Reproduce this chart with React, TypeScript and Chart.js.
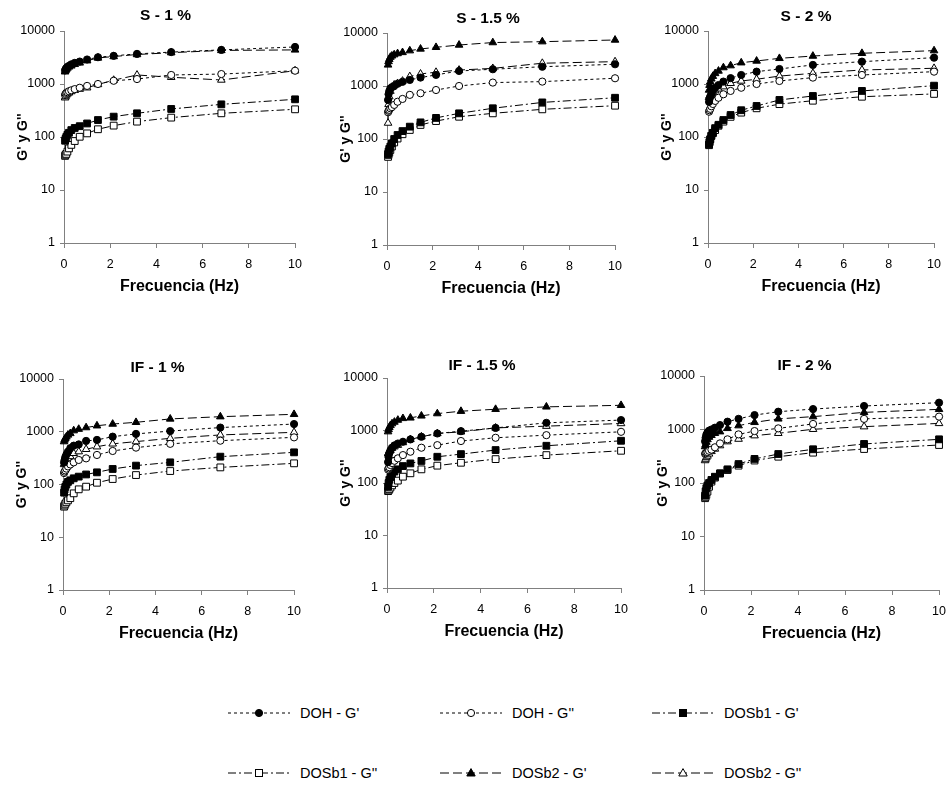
import React, { useEffect, useRef } from "react";
import { Chart, registerables } from "chart.js";

Chart.register(...registerables);

// ---------- DATA ----------
const frequencies = [0.0464, 0.0681, 0.1, 0.147, 0.215, 0.316, 0.464, 0.681, 1, 1.47, 2.15, 3.16, 4.64, 6.81, 10];

const seriesNames = ["DOH - G'", "DOH - G''", "DOSb1 - G'", "DOSb1 - G''", "DOSb2 - G'", "DOSb2 - G''"];

const panelTitles = ["S - 1 %", "S - 1.5 %", "S - 2 %", "IF - 1 %", "IF - 1.5 %", "IF - 2 %"];

const yTickValues = [1, 10, 100, 1000, 10000];
const xTickValues = [0, 2, 4, 6, 8, 10];

// S - 1 %
const s1_DOH_G1 = [1800, 1900, 2000, 2100, 2200, 2350, 2500, 2650, 2900, 3200, 3400, 3700, 4000, 4400, 5000];
const s1_DOH_G2 = [620, 650, 680, 700, 730, 760, 800, 850, 920, 1000, 1150, 1240, 1480, 1540, 1780];
const s1_DOSb1_G1 = [85, 92, 100, 110, 120, 135, 148, 160, 180, 209, 242, 280, 338, 413, 514];
const s1_DOSb1_G2 = [44, 46, 48, 53, 61, 71, 84, 101, 117, 140, 164, 195, 232, 280, 333];
const s1_DOSb2_G1 = [1700, 1800, 1900, 2000, 2100, 2200, 2350, 2500, 2750, 3100, 3300, 3600, 3900, 4300, 4400];
const s1_DOSb2_G2 = [550, 580, 620, 650, 680, 720, 760, 800, 850, 980, 1180, 1480, 1340, 1190, 1780];

// S - 1.5 %
const s15_DOH_G1 = [545, 700, 800, 900, 950, 1000, 1100, 1200, 1300, 1440, 1620, 1920, 2070, 2310, 2570];
const s15_DOH_G2 = [320, 340, 355, 380, 400, 440, 505, 570, 680, 730, 840, 1000, 1160, 1210, 1400];
const s15_DOSb1_G1 = [52, 58, 65, 72, 83, 100, 119, 141, 171, 206, 250, 305, 380, 490, 600];
const s15_DOSb1_G2 = [46, 50, 55, 62, 72, 86, 102, 123, 148, 184, 218, 263, 305, 363, 425];
const s15_DOSb2_G1 = [2500, 2900, 3200, 3500, 3700, 3900, 4100, 4300, 4640, 5000, 5370, 5940, 6600, 6860, 7380];
const s15_DOSb2_G2 = [200, 450, 630, 800, 950, 1050, 1120, 1240, 1510, 1690, 1820, 2000, 2150, 2690, 2880];

// S - 2 %
const s2_DOH_G1 = [460, 520, 580, 650, 750, 850, 955, 1110, 1290, 1480, 1710, 1920, 2290, 2640, 3140];
const s2_DOH_G2 = [300, 320, 340, 380, 420, 480, 550, 640, 740, 850, 1000, 1140, 1320, 1480, 1710];
const s2_DOSb1_G1 = [72, 80, 90, 105, 120, 147, 170, 209, 260, 320, 385, 500, 594, 740, 930];
const s2_DOSb1_G2 = [70, 80, 91, 105, 118, 135, 163, 195, 240, 288, 348, 417, 484, 575, 650];
const s2_DOSb2_G1 = [770, 950, 1100, 1250, 1400, 1580, 1760, 2040, 2220, 2520, 2720, 3050, 3370, 3800, 4260];
const s2_DOSb2_G2 = [560, 600, 620, 650, 700, 750, 810, 890, 1030, 1140, 1230, 1410, 1590, 1840, 1980];

// IF - 1 %
const if1_DOH_G1 = [260, 290, 330, 370, 420, 490, 545, 575, 670, 700, 807, 910, 1030, 1200, 1400];
const if1_DOH_G2 = [165, 175, 185, 200, 220, 240, 263, 292, 313, 363, 432, 500, 590, 677, 783];
const if1_DOSb1_G1 = [70, 80, 90, 100, 112, 120, 131, 141, 155, 170, 197, 228, 263, 337, 407];
const if1_DOSb1_G2 = [38, 40, 43, 46, 50, 55, 68, 81, 91, 108, 127, 151, 180, 211, 252];
const if1_DOSb2_G1 = [650, 700, 750, 800, 870, 930, 1050, 1120, 1200, 1300, 1400, 1510, 1750, 1930, 2140];
const if1_DOSb2_G2 = [240, 250, 270, 290, 310, 340, 390, 420, 465, 520, 590, 650, 750, 870, 975];

// IF - 1.5 %
const if15_DOH_G1 = [250, 310, 370, 420, 470, 520, 565, 610, 676, 760, 877, 970, 1120, 1400, 1580];
const if15_DOH_G2 = [180, 190, 200, 220, 240, 265, 295, 340, 394, 470, 526, 630, 727, 815, 944];
const if15_DOSb1_G1 = [85, 100, 115, 130, 150, 165, 182, 210, 236, 263, 316, 355, 424, 512, 637];
const if15_DOSb1_G2 = [70, 72, 76, 82, 90, 100, 111, 132, 153, 182, 214, 243, 285, 340, 411];
const if15_DOSb2_G1 = [950, 1050, 1150, 1250, 1350, 1450, 1580, 1700, 1740, 1900, 2100, 2330, 2540, 2820, 3020];
const if15_DOSb2_G2 = [360, 380, 400, 420, 460, 490, 525, 590, 676, 760, 877, 944, 1120, 1210, 1360];

// IF - 2 %
const if2_DOH_G1 = [600, 700, 800, 880, 950, 1000, 1080, 1210, 1400, 1580, 1860, 2150, 2410, 2750, 3170];
const if2_DOH_G2 = [350, 360, 370, 380, 400, 420, 465, 550, 655, 810, 935, 1050, 1270, 1580, 1740];
const if2_DOSb1_G1 = [58, 70, 80, 90, 100, 114, 131, 151, 180, 226, 282, 348, 427, 537, 655];
const if2_DOSb1_G2 = [52, 55, 60, 69, 85, 106, 126, 151, 175, 211, 263, 310, 369, 432, 513];
const if2_DOSb2_G1 = [480, 520, 580, 650, 720, 780, 850, 910, 1050, 1180, 1360, 1580, 1740, 2090, 2380];
const if2_DOSb2_G2 = [263, 280, 300, 320, 350, 390, 432, 500, 593, 662, 767, 850, 1010, 1130, 1300];

const panelSeries = [
  [s1_DOH_G1, s1_DOH_G2, s1_DOSb1_G1, s1_DOSb1_G2, s1_DOSb2_G1, s1_DOSb2_G2],
  [s15_DOH_G1, s15_DOH_G2, s15_DOSb1_G1, s15_DOSb1_G2, s15_DOSb2_G1, s15_DOSb2_G2],
  [s2_DOH_G1, s2_DOH_G2, s2_DOSb1_G1, s2_DOSb1_G2, s2_DOSb2_G1, s2_DOSb2_G2],
  [if1_DOH_G1, if1_DOH_G2, if1_DOSb1_G1, if1_DOSb1_G2, if1_DOSb2_G1, if1_DOSb2_G2],
  [if15_DOH_G1, if15_DOH_G2, if15_DOSb1_G1, if15_DOSb1_G2, if15_DOSb2_G1, if15_DOSb2_G2],
  [if2_DOH_G1, if2_DOH_G2, if2_DOSb1_G1, if2_DOSb1_G2, if2_DOSb2_G1, if2_DOSb2_G2],
];

// ---------- STYLE / LAYOUT ----------
const FONT = '"Liberation Sans", Arial, Helvetica, sans-serif';
const AXIS_COLOR = "#808080";

const DASH_DOT = [3, 3];
const DASH_DASHDOT = [8, 3, 2, 3];
const DASH_LONG = [9, 4];

const seriesStyles = [
  { shape: "circle", filled: true, dash: DASH_DOT, radius: 3.6 },
  { shape: "circle", filled: false, dash: DASH_DOT, radius: 3.6 },
  { shape: "rect", filled: true, dash: DASH_DASHDOT, radius: 4.8 },
  { shape: "rect", filled: false, dash: DASH_DASHDOT, radius: 4.8 },
  { shape: "triangle", filled: true, dash: DASH_LONG, radius: 4.4 },
  { shape: "triangle", filled: false, dash: DASH_LONG, radius: 4.4 },
];

const panelLayout = [
  { left: 64, top: 31, right: 297, bottom: 243, titleShift: -14, titleGap: 15 },
  { left: 387, top: 33, right: 617, bottom: 245, titleShift: -13, titleGap: 14 },
  { left: 708, top: 31, right: 936, bottom: 243, titleShift: -15, titleGap: 14 },
  { left: 63, top: 379, right: 296, bottom: 590, titleShift: -21, titleGap: 11 },
  { left: 387, top: 378, right: 623, bottom: 588, titleShift: -22, titleGap: 12 },
  { left: 704, top: 376, right: 941, bottom: 590, titleShift: -17, titleGap: 10 },
];

const Y_AXIS_W = 54;
const X_AXIS_H = 54;
const TOP_PAD = 31;
const RIGHT_PAD = 14;

const panelTitlePlugin = {
  id: "panelTitle",
  afterDraw(chart: any, _args: any, opts: any) {
    const { ctx, chartArea } = chart;
    ctx.save();
    ctx.font = `bold 15.5px ${FONT}`;
    ctx.fillStyle = "#000";
    ctx.textAlign = "center";
    ctx.textBaseline = "middle";
    ctx.fillText(opts.text, (chartArea.left + chartArea.right) / 2 + opts.shift, chartArea.top - opts.gap);
    ctx.restore();
  },
};

function Panel({ idx }: { idx: number }) {
  const ref = useRef<HTMLCanvasElement | null>(null);
  const lay = panelLayout[idx];
  const w = Y_AXIS_W + (lay.right - lay.left) + RIGHT_PAD;
  const h = TOP_PAD + (lay.bottom - lay.top) + X_AXIS_H;

  useEffect(() => {
    if (!ref.current) return;
    const datasets = panelSeries[idx].map((vals, s) => {
      const st = seriesStyles[s];
      return {
        label: seriesNames[s],
        data: frequencies.map((f, i) => ({ x: f, y: vals[i] })),
        showLine: true,
        borderColor: "#000",
        borderWidth: 1,
        borderDash: st.dash,
        tension: 0,
        fill: false,
        pointStyle: st.shape,
        pointRadius: st.radius,
        pointBorderWidth: 1,
        pointBorderColor: "#000",
        pointBackgroundColor: st.filled ? "#000" : "#fff",
        clip: false,
      };
    });
    const chart = new Chart(ref.current, {
      type: "scatter",
      data: { datasets },
      plugins: [panelTitlePlugin],
      options: {
        responsive: false,
        animation: false,
        devicePixelRatio: 1,
        layout: { padding: { left: 0, top: TOP_PAD, right: RIGHT_PAD, bottom: 0 } },
        plugins: {
          legend: { display: false },
          tooltip: { enabled: false },
          title: { display: false },
          panelTitle: { text: panelTitles[idx], shift: lay.titleShift, gap: lay.titleGap },
        } as any,
        scales: {
          x: {
            type: "linear",
            min: 0,
            max: 10,
            afterBuildTicks: (s: any) => {
              s.ticks = xTickValues.map((v) => ({ value: v }));
            },
            ticks: {
              color: "#000",
              font: { family: FONT, size: 12.5 },
              padding: 9,
              maxRotation: 0,
              autoSkip: false,
            },
            grid: { drawOnChartArea: false, drawTicks: true, tickLength: 5, color: AXIS_COLOR },
            border: { color: AXIS_COLOR, width: 1 },
            title: {
              display: true,
              text: "Frecuencia (Hz)",
              color: "#000",
              font: { family: FONT, size: 16, weight: "bold" },
              padding: { top: 0, bottom: 1 },
            },
            afterFit: (s: any) => {
              s.height = X_AXIS_H;
            },
          },
          y: {
            type: "logarithmic",
            min: 1,
            max: 10000,
            afterBuildTicks: (s: any) => {
              s.ticks = yTickValues.map((v) => ({ value: v }));
            },
            ticks: {
              color: "#000",
              font: { family: FONT, size: 12.5 },
              padding: 5,
              autoSkip: false,
              callback: (v: any) => String(v),
            },
            grid: { drawOnChartArea: false, drawTicks: true, tickLength: 4, color: AXIS_COLOR },
            border: { color: AXIS_COLOR, width: 1 },
            title: {
              display: true,
              text: "G' y G''",
              color: "#000",
              font: { family: FONT, size: 14, weight: "bold" },
              padding: { top: 5, bottom: 0 },
            },
            afterFit: (s: any) => {
              s.width = Y_AXIS_W;
            },
          },
        },
      } as any,
    });
    return () => chart.destroy();
  }, [idx]);

  return (
    <canvas
      ref={ref}
      width={w}
      height={h}
      style={{ position: "absolute", left: lay.left - Y_AXIS_W, top: lay.top - TOP_PAD, width: w, height: h }}
    />
  );
}

function Marker({ shape, filled }: { shape: string; filled: boolean }) {
  const fill = filled ? "#000" : "#fff";
  if (shape === "circle") return <circle cx={31} cy={7} r={3.6} fill={fill} stroke="#000" strokeWidth={1} />;
  if (shape === "rect") return <rect x={27.5} y={3.5} width={7} height={7} fill={fill} stroke="#000" strokeWidth={1} />;
  return <polygon points="31,2.6 35.2,10 26.8,10" fill={fill} stroke="#000" strokeWidth={1} />;
}

const legendCols = [228, 440, 652];
const legendRows = [713, 773];

function Legend() {
  return (
    <>
      {seriesNames.map((name, s) => {
        const st = seriesStyles[s];
        const left = legendCols[s % 3];
        const cy = legendRows[Math.floor(s / 3)];
        return (
          <div
            key={name}
            style={{
              position: "absolute",
              left,
              top: cy - 9,
              height: 18,
              display: "flex",
              alignItems: "center",
              whiteSpace: "nowrap",
            }}
          >
            <svg width={62} height={14} style={{ display: "block" }}>
              <line x1={0} y1={7} x2={62} y2={7} stroke="#000" strokeWidth={1} strokeDasharray={st.dash.join(",")} />
              <Marker shape={st.shape} filled={st.filled} />
            </svg>
            <span style={{ marginLeft: 10, fontFamily: FONT, fontSize: 14.5, color: "#000", lineHeight: "18px" }}>
              {name}
            </span>
          </div>
        );
      })}
    </>
  );
}

export default function App() {
  return (
    <div
      style={{
        position: "absolute",
        left: 0,
        top: 0,
        width: 949,
        height: 789,
        background: "#fff",
        overflow: "hidden",
      }}
    >
      {panelTitles.map((_, i) => (
        <Panel key={i} idx={i} />
      ))}
      <Legend />
    </div>
  );
}
